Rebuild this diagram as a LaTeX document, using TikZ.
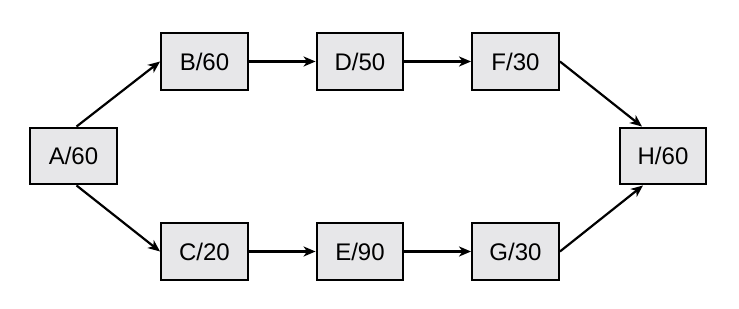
\documentclass[tikz,border=0pt]{standalone}
\usepackage{fontspec}
\setmainfont{Liberation Sans}
\usetikzlibrary{arrows.meta,positioning}
\definecolor{boxgray}{RGB}{231,231,233}

\tikzset{
  taskbox/.style={draw,line width=2.4pt,fill=boxgray,minimum width=86.5pt,
    minimum height=56.5pt,inner sep=0pt,font=\fontsize{24}{27}\selectfont},
  flow/.style={line width=2.2pt,-{Stealth[length=12pt,width=10pt,inset=3.5pt]}}
}

\begin{document}
\begin{tikzpicture}[x=1pt,y=1pt]
  \useasboundingbox (0,0) rectangle (739,308);
  \foreach \nm/\px/\py/\lbl in {
      A/73.5/152/{A/60},B/204.5/246.5/{B/60},D/360/246.5/{D/50},
      F/515.5/246.5/{F/30},C/204.5/56.5/{C/20},E/360/56.5/{E/90},
      G/515.5/56.5/{G/30},H/663/152/{H/60}}{
    \node[taskbox] (\nm) at (\px,\py) {\lbl};
  }
  \draw[flow] ([xshift=3pt]A.north) -- (B.west);
  \draw[flow] ([xshift=3pt]A.south) -- (C.west);
  \draw[flow] (B) -- (D);
  \draw[flow] (D) -- (F);
  \draw[flow] (C) -- (E);
  \draw[flow] (E) -- (G);
  \draw[flow] (F.east) -- ([xshift=-21pt]H.north);
  \draw[flow] (G.east) -- ([xshift=-20pt]H.south);
\end{tikzpicture}
\end{document}
